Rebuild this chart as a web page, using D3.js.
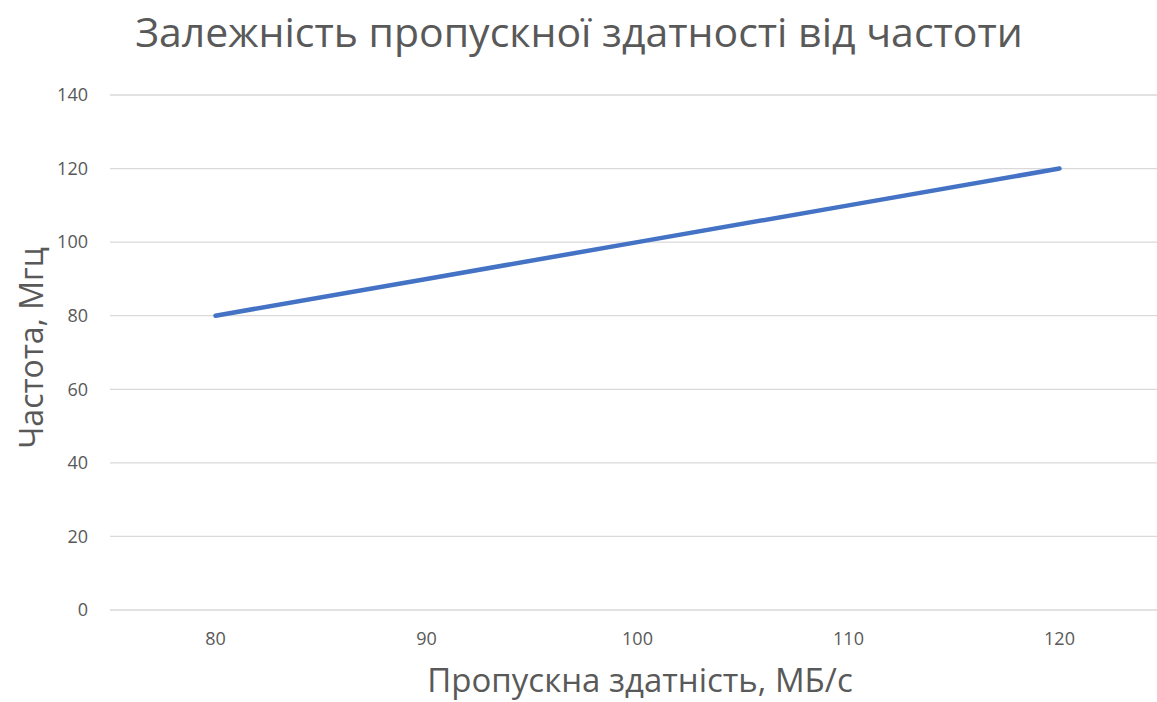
<!DOCTYPE html>
<html>
<head>
<meta charset="utf-8">
<script src="https://cdn.jsdelivr.net/npm/d3@7"></script>
<style>
  html, body { margin: 0; padding: 0; background: #fff; }
  svg { display: block; }
  text { font-family: "Open Sans", "Noto Sans", sans-serif; fill: #595959; }
</style>
</head>
<body>
<svg id="chart" width="1157" height="702"></svg>
<script>
// Bandwidth categories (MB/s) and corresponding frequency values (MHz)
const categories = ["80", "90", "100", "110", "120"];
const frequency = [80, 90, 100, 110, 120];
const yTicks = [0, 20, 40, 60, 80, 100, 120, 140];

const title = "Залежність пропускної здатності від частоти";
const xTitle = "Пропускна здатність, МБ/с";
const yTitle = "Частота, Мгц";

const svg = d3.select("#chart");
const plot = { left: 110, right: 1165, top: 95, bottom: 610 };

const x = d3.scaleBand().domain(categories).range([plot.left, plot.right]);
const y = d3.scaleLinear().domain([0, 140]).range([plot.bottom, plot.top]);

// Horizontal gridlines
svg.append("g")
  .selectAll("line")
  .data(yTicks)
  .join("line")
  .attr("x1", plot.left)
  .attr("x2", plot.right)
  .attr("y1", d => y(d))
  .attr("y2", d => y(d))
  .attr("stroke", "#d9d9d9")
  .attr("stroke-width", 1.3);

// Y tick labels
const yAxis = d3.axisLeft(y).tickValues(yTicks).tickSize(0).tickPadding(0);
const gy = svg.append("g").attr("transform", `translate(${plot.left - 22},0)`).call(yAxis);
gy.select(".domain").remove();
gy.selectAll("text")
  .style("font-size", "18px")
  .style("fill", "#595959")
  .style("font-family", "'Open Sans', sans-serif");

// X tick labels
const xAxis = d3.axisBottom(x).tickSize(0).tickPadding(0);
const gx = svg.append("g").attr("transform", `translate(0,${plot.bottom + 22})`).call(xAxis);
gx.select(".domain").remove();
gx.selectAll("text")
  .style("font-size", "18px")
  .style("fill", "#595959")
  .style("font-family", "'Open Sans', sans-serif");

// Data line
const line = d3.line()
  .x((d, i) => x(categories[i]) + x.bandwidth() / 2)
  .y(d => y(d));

svg.append("path")
  .datum(frequency)
  .attr("d", line)
  .attr("fill", "none")
  .attr("stroke", "#4472C4")
  .attr("stroke-width", 4.5)
  .attr("stroke-linecap", "round")
  .attr("stroke-linejoin", "round");

// Titles
svg.append("text")
  .attr("x", 579).attr("y", 47)
  .attr("text-anchor", "middle")
  .style("font-size", "41px")
  .text(title);

svg.append("text")
  .attr("x", 640).attr("y", 692)
  .attr("text-anchor", "middle")
  .style("font-size", "33px")
  .text(xTitle);

svg.append("text")
  .attr("transform", "translate(43,348) rotate(-90)")
  .attr("text-anchor", "middle")
  .style("font-size", "32px")
  .text(yTitle);
</script>
</body>
</html>
